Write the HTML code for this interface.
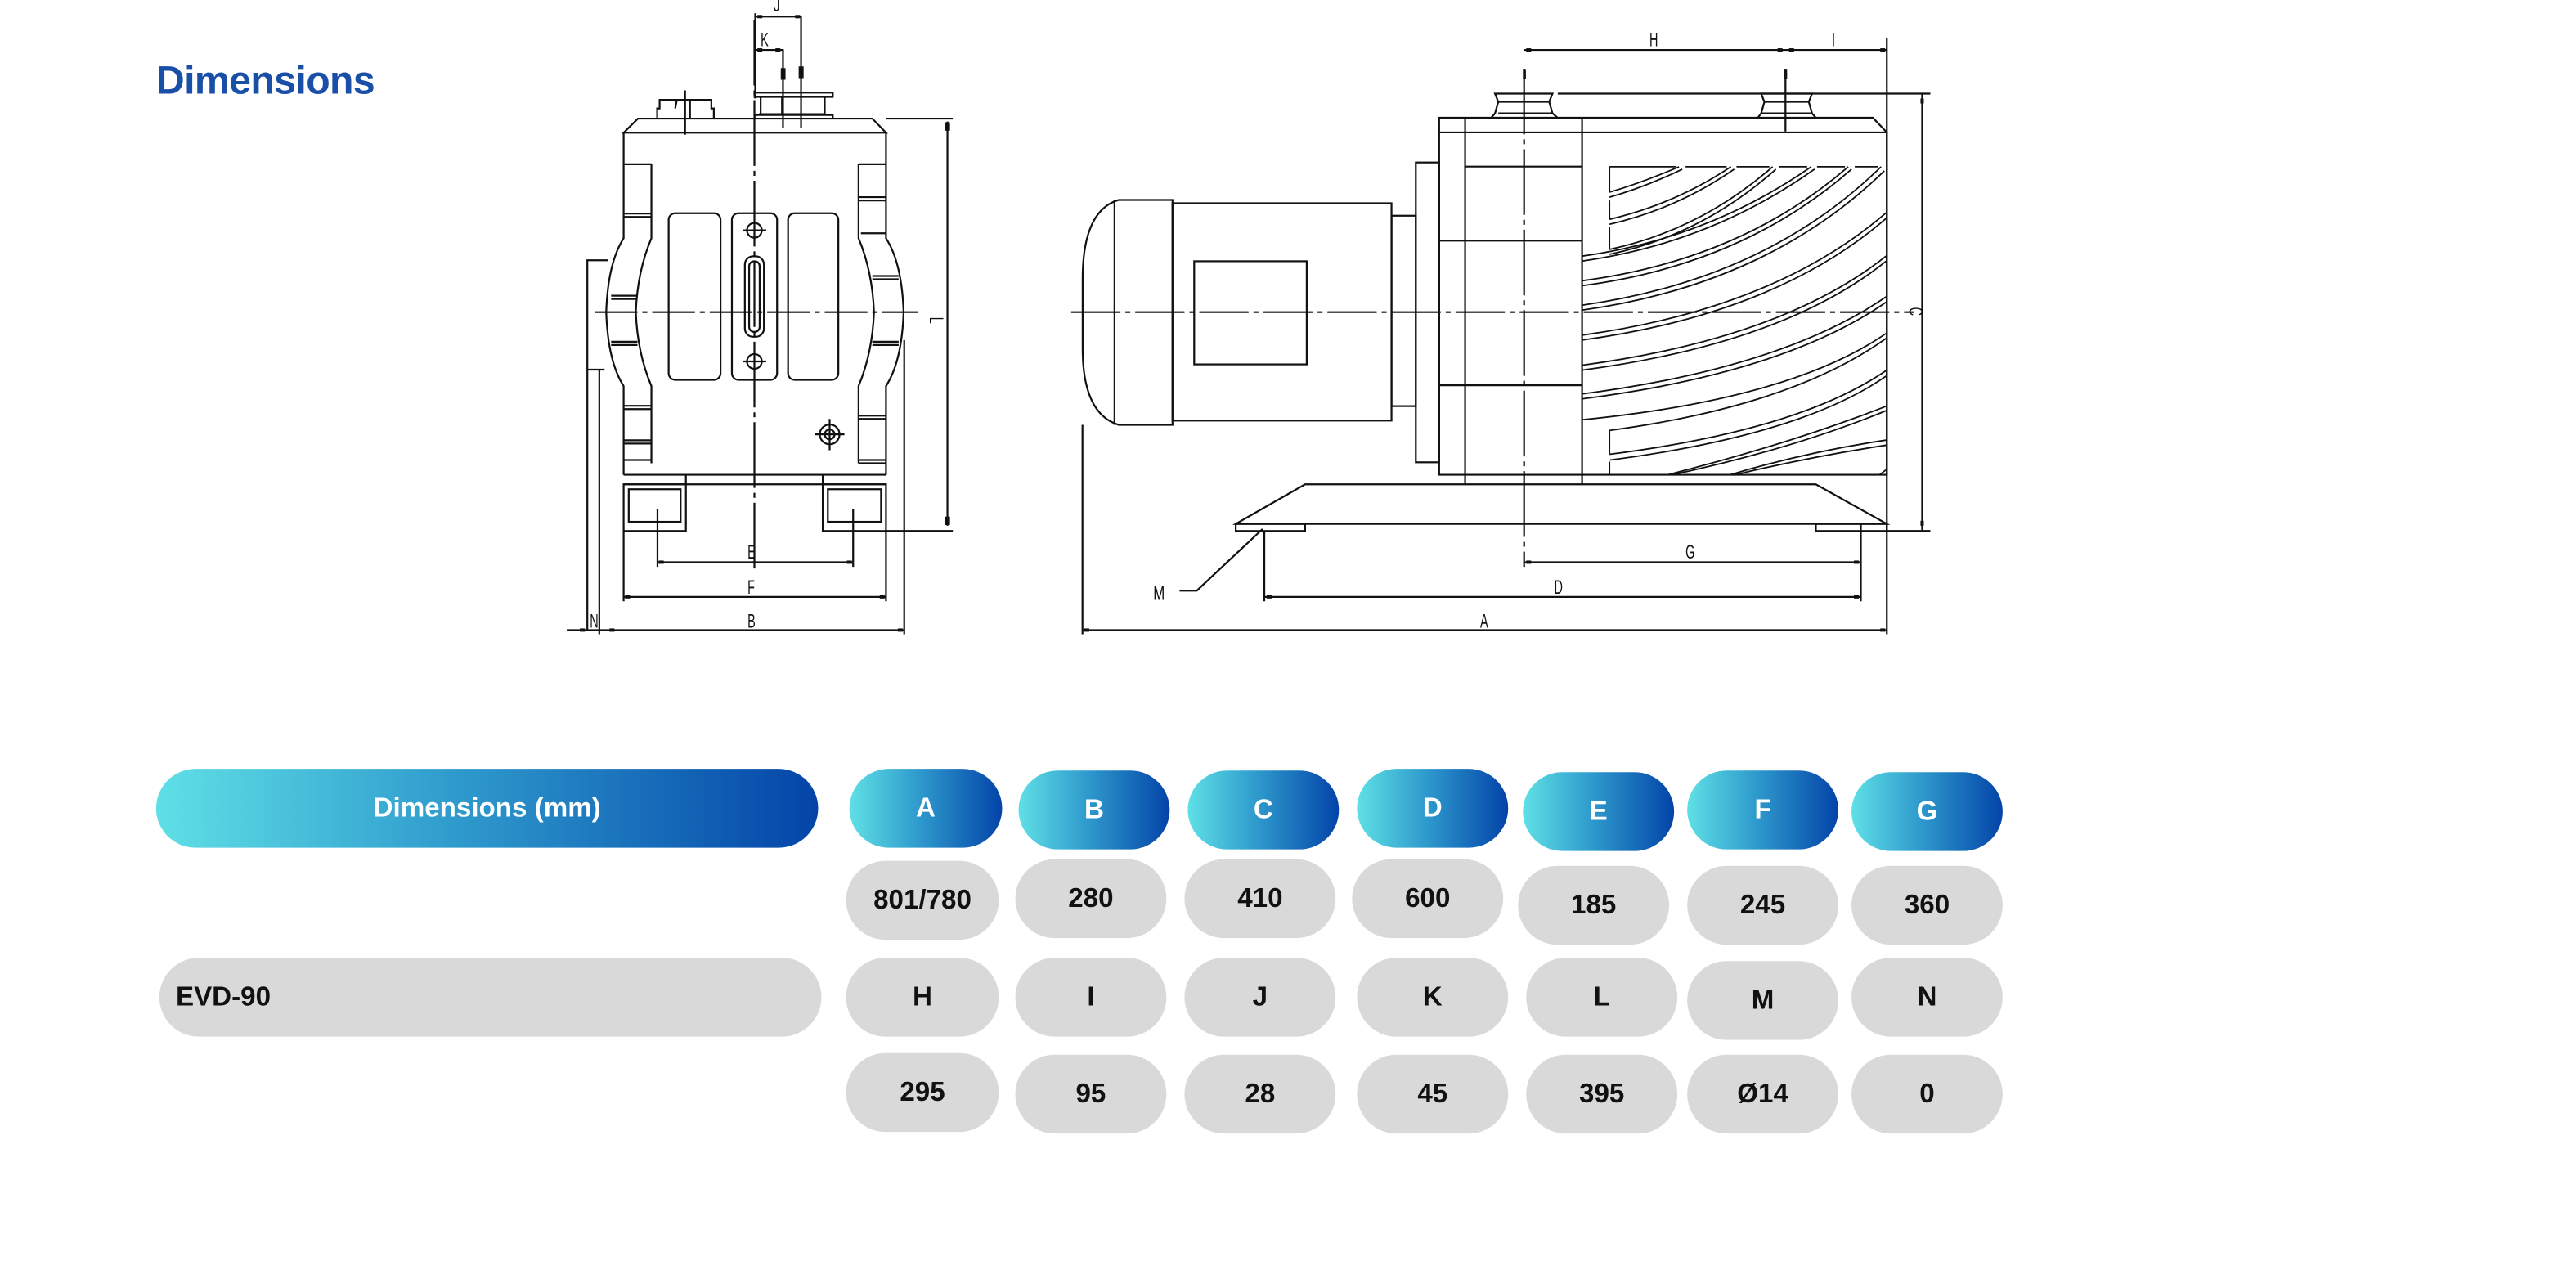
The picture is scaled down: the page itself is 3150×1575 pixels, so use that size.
<!DOCTYPE html>
<html><head><meta charset="utf-8">
<style>
html,body{margin:0;padding:0;background:#fff;}
body{width:3150px;height:1575px;overflow:hidden;position:relative;}
#p{position:absolute;left:0;top:0;width:1568px;height:784px;transform:scale(2.00893);transform-origin:0 0;font-family:"Liberation Sans",sans-serif;}
.t{position:absolute;left:95px;top:36px;font-size:24px;font-weight:bold;color:#1a4fa8;letter-spacing:-0.3px;}
.pill{position:absolute;height:48px;border-radius:24px;display:flex;align-items:center;justify-content:center;font-weight:bold;font-size:16.5px;color:#111;background:#d9d9d9;}
.g{background:linear-gradient(90deg,#5fe0e6 0%,#2f9bcd 45%,#0344a8 100%);color:#fff;}
svg{position:absolute;left:0;top:0;}
</style></head><body><div id="p">
<div class="t">Dimensions</div>

<div class="pill g" style="left:95px;top:468px;width:403px;">Dimensions (mm)</div>
<div class="pill" style="left:97px;top:583px;width:403px;justify-content:flex-start;padding-left:10px;box-sizing:border-box;">EVD-90</div>

<div class="pill g" style="left:517px;top:468px;width:93px;">A</div>
<div class="pill g" style="left:620px;top:469px;width:92px;">B</div>
<div class="pill g" style="left:723px;top:469px;width:92px;">C</div>
<div class="pill g" style="left:826px;top:468px;width:92px;">D</div>
<div class="pill g" style="left:927px;top:470px;width:92px;">E</div>
<div class="pill g" style="left:1027px;top:469px;width:92px;">F</div>
<div class="pill g" style="left:1127px;top:470px;width:92px;">G</div>

<div class="pill" style="left:515px;top:524px;width:93px;">801/780</div>
<div class="pill" style="left:618px;top:523px;width:92px;">280</div>
<div class="pill" style="left:721px;top:523px;width:92px;">410</div>
<div class="pill" style="left:823px;top:523px;width:92px;">600</div>
<div class="pill" style="left:924px;top:527px;width:92px;">185</div>
<div class="pill" style="left:1027px;top:527px;width:92px;">245</div>
<div class="pill" style="left:1127px;top:527px;width:92px;">360</div>

<div class="pill" style="left:515px;top:583px;width:93px;">H</div>
<div class="pill" style="left:618px;top:583px;width:92px;">I</div>
<div class="pill" style="left:721px;top:583px;width:92px;">J</div>
<div class="pill" style="left:826px;top:583px;width:92px;">K</div>
<div class="pill" style="left:929px;top:583px;width:92px;">L</div>
<div class="pill" style="left:1027px;top:585px;width:92px;">M</div>
<div class="pill" style="left:1127px;top:583px;width:92px;">N</div>

<div class="pill" style="left:515px;top:641px;width:93px;">295</div>
<div class="pill" style="left:618px;top:642px;width:92px;">95</div>
<div class="pill" style="left:721px;top:642px;width:92px;">28</div>
<div class="pill" style="left:826px;top:642px;width:92px;">45</div>
<div class="pill" style="left:929px;top:642px;width:92px;">395</div>
<div class="pill" style="left:1027px;top:642px;width:92px;">Ø14</div>
<div class="pill" style="left:1127px;top:642px;width:92px;">0</div>

<svg width="1568" height="784" viewBox="0 0 1568 784" fill="none" stroke="#111" stroke-width="1.1">
<!-- ===== LEFT VIEW ===== -->
<path d="M388.3 72.2 L531 72.2 L539.3 80.8 L379.6 80.8 Z"/>
<path d="M379.6 80.8 L379.6 145 Q370 160 369 190 Q370 220 379.6 235 L379.6 289"/>
<path d="M539.3 80.8 L539.3 145 Q549 160 550 190 Q549 220 539.3 235 L539.3 289"/>
<path d="M396.5 100 L396.5 145 Q388 165 387 190 Q388 215 396.5 235 L396.5 282"/>
<path d="M522.6 100 L522.6 145 Q531 165 532 190 Q531 215 522.6 235 L522.6 282"/>
<path d="M379.6 100 H396.5 M379.6 130 H396.5 M379.6 132 H396.5 M372 180 H388 M372 182 H388 M372 208 H388 M372 210 H388 M379.6 247 H396.5 M379.6 249 H396.5 M379.6 268 H396.5 M379.6 270 H396.5 M379.6 280 H396.5"/>
<path d="M522.6 100 H539.3 M522.6 120 H539.3 M522.6 122 H539.3 M524 142 H539.3 M531 168 H547 M531 170 H547 M531 208 H547 M531 210 H547 M522.6 253 H539.3 M522.6 255 H539.3 M522.6 280 H539.3 M522.6 282 H539.3"/>
<rect x="407" y="129.8" width="31.6" height="101.4" rx="4"/>
<rect x="445.5" y="129.8" width="27.5" height="101.4" rx="4"/>
<rect x="479.7" y="129.8" width="30.6" height="101.4" rx="4"/>
<rect x="453.4" y="156" width="11.6" height="49" rx="5"/>
<rect x="456" y="159" width="6.4" height="43" rx="3"/>
<circle cx="459.2" cy="140.2" r="4.5"/><circle cx="459.2" cy="220" r="4.5"/>
<path d="M452 140.2 H466.4 M452 220 H466.4"/>
<circle cx="505" cy="264.4" r="6"/><circle cx="505" cy="264.4" r="3"/>
<path d="M496 264.4 H514 M505 255 V274"/>
<path d="M379.6 289 H539.3 M379.6 294.8 H539.3 M417.5 289 V294.8 M500.8 289 V294.8"/>
<rect x="379.6" y="294.8" width="37.9" height="28.4"/><rect x="382.7" y="297.8" width="31.6" height="19.8"/>
<rect x="500.8" y="294.8" width="38.5" height="28.4"/><rect x="503.9" y="297.8" width="32.4" height="19.8"/>
<path d="M400 71.7 L400 66 L401.5 66 L401.5 60.8 L433 60.8 L433 66 L434.5 66 L434.5 71.7 M412 60.8 L411 66 M420 60.8 L420 71.7 M417 55 V82"/>
<path d="M459.3 56.4 H506.9 V59 H459.3 Z M463 59 V69.5 H502 V59 M476 59 V69 M459.3 72.2 V70 H506.9 V72.2 M462 69.5 H475"/>
<path d="M362 190 H559" stroke-dasharray="26 3 3 3"/>
<path d="M459.2 12 V346" stroke-dasharray="40 3 3 3"/>
<path d="M476.6 30 V78 M487.6 10 V78"/>
<rect x="475.8" y="42" width="1.8" height="6" fill="#111"/><rect x="486.7" y="41" width="1.9" height="6" fill="#111"/>
<path d="M357.5 384 V158.4 H370 M357.5 225 H368 M364.8 225 V386"/>
<path d="M539.3 72.2 H580 M539.3 323.2 H580 M576.7 74 V320"/>
<rect x="575.8" y="75" width="1.9" height="4" fill="#111"/><rect x="575.8" y="315" width="1.9" height="4" fill="#111"/>
<path d="M400.2 310 V345 M519.3 310 V345 M400.2 342.2 H519.3"/>
<path d="M379.6 323 V366 M539.3 323 V366 M379.6 363.3 H539.3"/>
<path d="M550.4 207 V386 M345 383.5 H550.4"/>
<path d="M459.7 8 V60 M459.7 10.1 H487.6 M459.7 30.4 H476.6"/>
<g fill="#111" stroke="none">
<rect x="401" y="341.2" width="3" height="2"/><rect x="515.5" y="341.2" width="3" height="2"/>
<rect x="380.5" y="362.3" width="3" height="2"/><rect x="535.5" y="362.3" width="3" height="2"/>
<rect x="371" y="382.5" width="3" height="2"/><rect x="546.5" y="382.5" width="3" height="2"/>
<rect x="353" y="382.5" width="3" height="2"/>
<rect x="461" y="9.1" width="3" height="2"/><rect x="484" y="9.1" width="3" height="2"/>
<rect x="461" y="29.4" width="3" height="2"/><rect x="472" y="29.4" width="3" height="2"/>
</g>
<g fill="#111" stroke="none" font-family="Liberation Sans, sans-serif" font-size="12">
<text transform="translate(455 340) scale(0.6 1)">E</text>
<text transform="translate(455 361.5) scale(0.6 1)">F</text>
<text transform="translate(455 382) scale(0.6 1)">B</text>
<text transform="translate(359 382) scale(0.6 1)">N</text>
<text transform="translate(471 7) scale(0.6 1)">J</text>
<text transform="translate(463 28) scale(0.6 1)">K</text>
<text transform="translate(566 193) rotate(90) scale(0.6 1)">L</text>
</g>

<!-- ===== RIGHT VIEW ===== -->
<path d="M713.7 121.7 L681 121.7 Q659 128 659 170 L659 212 Q659 252 681 258.6 L713.7 258.6 Z"/>
<path d="M678.4 121.7 V258.6"/>
<rect x="713.7" y="123.7" width="133.3" height="132.3"/>
<rect x="726.9" y="159" width="68.5" height="62.8"/>
<rect x="847" y="131.3" width="14.8" height="115.9"/>
<rect x="861.8" y="98.9" width="14.2" height="182.5"/>
<path d="M876 71.7 H1140 L1148.5 80.6 V289 H876 Z M876 80.6 H1148.5"/>
<path d="M891.8 71.7 V294.8 M963 71.7 V294.8 M891.8 101.4 H963 M876 146.5 H963 M876 234.5 H963"/>
<g stroke-width="0.9">
<path d="M979.7 101.5 V117 M979.7 122 V133.5 M979.7 138 V151.8 M979.7 262 V276.5 M979.7 281 V289"/>
<path d="M979.7 101.5 H1020 M1026 101.5 H1051 M1057 101.5 H1077 M1083 101.5 H1100 M1106 101.5 H1123 M1129 101.5 H1143"/>
<path d="M979.7 117 Q1000 111 1022 101.5 M979.7 120 Q1001 114 1024 103"/>
<path d="M979.7 133.5 Q1020 124 1053.6 101.5 M979.7 136.5 Q1021 127 1055.6 103"/>
<path d="M979.7 151.8 Q1035 140 1079 101.5 M979.7 154.8 Q1036 143 1081 103"/>
<path d="M963 155.9 Q1040 145 1102.5 101.5 M963 158.9 Q1041 148 1104.5 103"/>
<path d="M963 170.9 Q1060 158 1125 101.5 M963 173.9 Q1061 161 1127 103"/>
<path d="M963 185.8 Q1075 170 1145 101.5 M963 188.8 Q1076 173 1147 104"/>
<path d="M963 204 Q1080 188 1148 129.6 M963 207 Q1081 191 1148 133"/>
<path d="M963 222.3 Q1085 206 1148 155.9 M963 225.3 Q1086 209 1148 159"/>
<path d="M963 239.8 Q1085 224 1148 180.7 M963 242.8 Q1086 227 1148 184"/>
<path d="M963 255.5 Q1090 243 1148 203 M979.7 262 Q1091 247 1148 206"/>
<path d="M979.7 276.5 Q1095 262 1148 225.6 M980 280 Q1096 265 1148 229"/>
<path d="M1015 289 Q1090 270 1148 247.3 M1018 289 Q1092 273 1148 250"/>
<path d="M1053 289 Q1100 275 1148 267.9 M1056 289 Q1102 278 1148 271"/>
<path d="M1144 289 L1148 286"/>
</g>
<path d="M794.4 294.8 H1105.3 L1148.5 318.9 H752.2 Z"/>
<rect x="752.2" y="318.9" width="42.2" height="4.3"/>
<rect x="1105.3" y="318.9" width="43.2" height="4.3"/>
<path d="M907.7 71.7 L910 69 L912 62 L910 57 H945 L943 62 L945 69 L948.2 71.7 M912 62 H943 M912 69 H945"/>
<path d="M1070 71.7 L1072 69 L1074 62 L1072 57 H1103 L1101 62 L1103 69 L1105.3 71.7 M1074 62 H1101 M1072 69 H1103"/>
<path d="M652 190 H1165" stroke-dasharray="30 3 3 3"/>
<path d="M927.7 41.8 V345" stroke-dasharray="40 3 3 3"/>
<path d="M1086.8 41.8 V80"/>
<path d="M927.7 30.4 H1148.5 M1148.5 23 V386"/>
<path d="M948.2 57 H1175 M1148.5 323.2 H1175 M1170 57 V323.2"/>
<path d="M927.7 342.2 H1132.7 M769.6 323 V366 M1132.7 318.9 V366 M769.6 363.3 H1132.7"/>
<path d="M658.9 258.6 V386 M658.9 383.5 H1148.5"/>
<path d="M768.5 322 L728.5 359.5 H718"/>
<g fill="#111" stroke="none">
<rect x="929" y="29.4" width="3" height="2"/><rect x="1082" y="29.4" width="3" height="2"/><rect x="1089" y="29.4" width="3" height="2"/><rect x="1144.5" y="29.4" width="3" height="2"/>
<rect x="929" y="341.2" width="3" height="2"/><rect x="1128.5" y="341.2" width="3" height="2"/>
<rect x="771" y="362.3" width="3" height="2"/><rect x="1128.5" y="362.3" width="3" height="2"/>
<rect x="660" y="382.5" width="3" height="2"/><rect x="1144.5" y="382.5" width="3" height="2"/>
<rect x="1169" y="60" width="2" height="3"/><rect x="1169" y="317" width="2" height="3"/>
<rect x="927" y="42" width="1.8" height="6"/><rect x="1086" y="42" width="1.8" height="6"/>
</g>
<g fill="#111" stroke="none" font-family="Liberation Sans, sans-serif" font-size="12">
<text transform="translate(1004 28) scale(0.6 1)">H</text>
<text transform="translate(1115 28) scale(0.6 1)">I</text>
<text transform="translate(1026 340) scale(0.6 1)">G</text>
<text transform="translate(946 361.5) scale(0.6 1)">D</text>
<text transform="translate(901 382) scale(0.6 1)">A</text>
<text transform="translate(702 365) scale(0.7 1)">M</text>
<text transform="translate(1162 187) rotate(90) scale(0.6 1)">C</text>
</g>
</svg>
</div></body></html>
